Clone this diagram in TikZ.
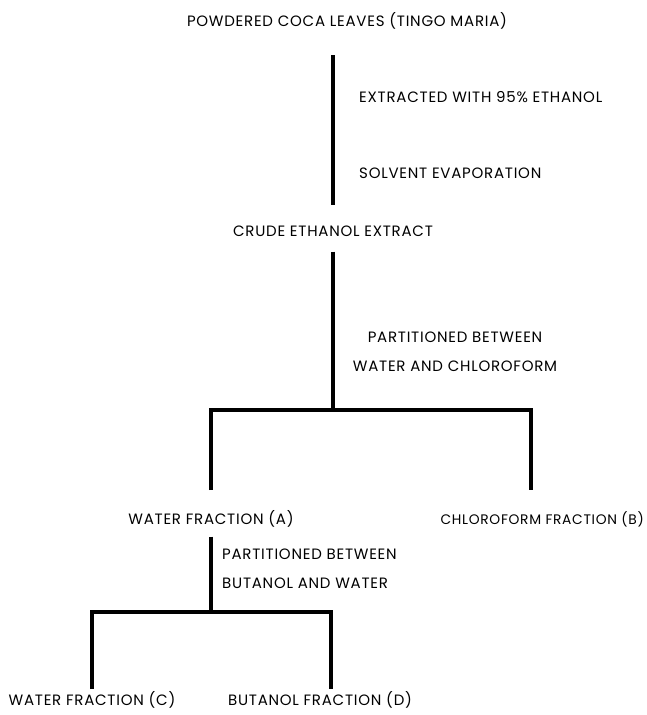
\documentclass[tikz,border=0pt]{standalone}
\usepackage{fontspec}
\setmainfont{Poppins}[LetterSpace=5]
\usetikzlibrary{positioning}

\begin{document}
\begin{tikzpicture}[
    x=1pt, y=-1pt, % pixel-like grid, y runs downwards
    stage/.style={font=\fontsize{15}{28}\selectfont, inner sep=1pt}, % Style for product labels
    note/.style={font=\fontsize{15}{28.5}\selectfont, inner sep=1pt}, % Style for step labels
    link/.style={line width=3.5pt} % Style for connectors
  ]
    \useasboundingbox (0,0) rectangle (647,715);

    % Define nodes
    \node (leaves)  [stage] at (347,21)  {POWDERED COCA LEAVES (TINGO MARIA)};
    \node (extract) [note, anchor=west] at (358,97)  {EXTRACTED WITH 95\% ETHANOL};
    \node (evap)    [note, anchor=west] at (358,173) {SOLVENT EVAPORATION};
    \node (crude)   [stage] at (333,231) {CRUDE ETHANOL EXTRACT};
    \node (part1)   [note, align=center] at (455,352) {PARTITIONED BETWEEN\\WATER AND CHLOROFORM};
    \node (waterA)  [stage] at (211,519) {WATER FRACTION (A)};
    \node (chloroB) [stage, font=\fontsize{13.8}{28}\selectfont, anchor=east] at (645,519) {CHLOROFORM FRACTION (B)};
    \node (part2)   [note, align=left, anchor=west] at (221,569) {PARTITIONED BETWEEN\\BUTANOL AND WATER};
    \node (waterC)  [stage] at (92,700)  {WATER FRACTION (C)};
    \node (butD)    [stage] at (320,700) {BUTANOL FRACTION (D)};

    % Rows where lines start and end
    \coordinate (r0) at (0,55);
    \coordinate (r1) at (0,205);
    \coordinate (r2) at (0,410);
    \coordinate (r3) at (0,490);
    \coordinate (r4) at (0,612);
    \coordinate (r5) at (0,689);

    % Junctions and free ends
    \coordinate (j1) at (crude |- r2);
    \coordinate (j2) at (waterA |- r4);
    \coordinate (endB) at (531,490);
    \coordinate (endD) at (331,689);

    % Draw connectors
    \draw[link] (crude |- r0) -- (crude |- r1); % Vertical line
    \draw[link] ([yshift=-14pt]crude.south) -- (j1);
    \draw[link] (waterA |- r3) -- (waterA |- r2) -- (endB |- r2) -- (endB);
    \draw[link] ([yshift=-8pt]waterA.south) -- (j2);
    \draw[link] (waterC |- r5) -- (waterC |- r4) -- (endD |- r4) -- (endD);
\end{tikzpicture}
\end{document}
